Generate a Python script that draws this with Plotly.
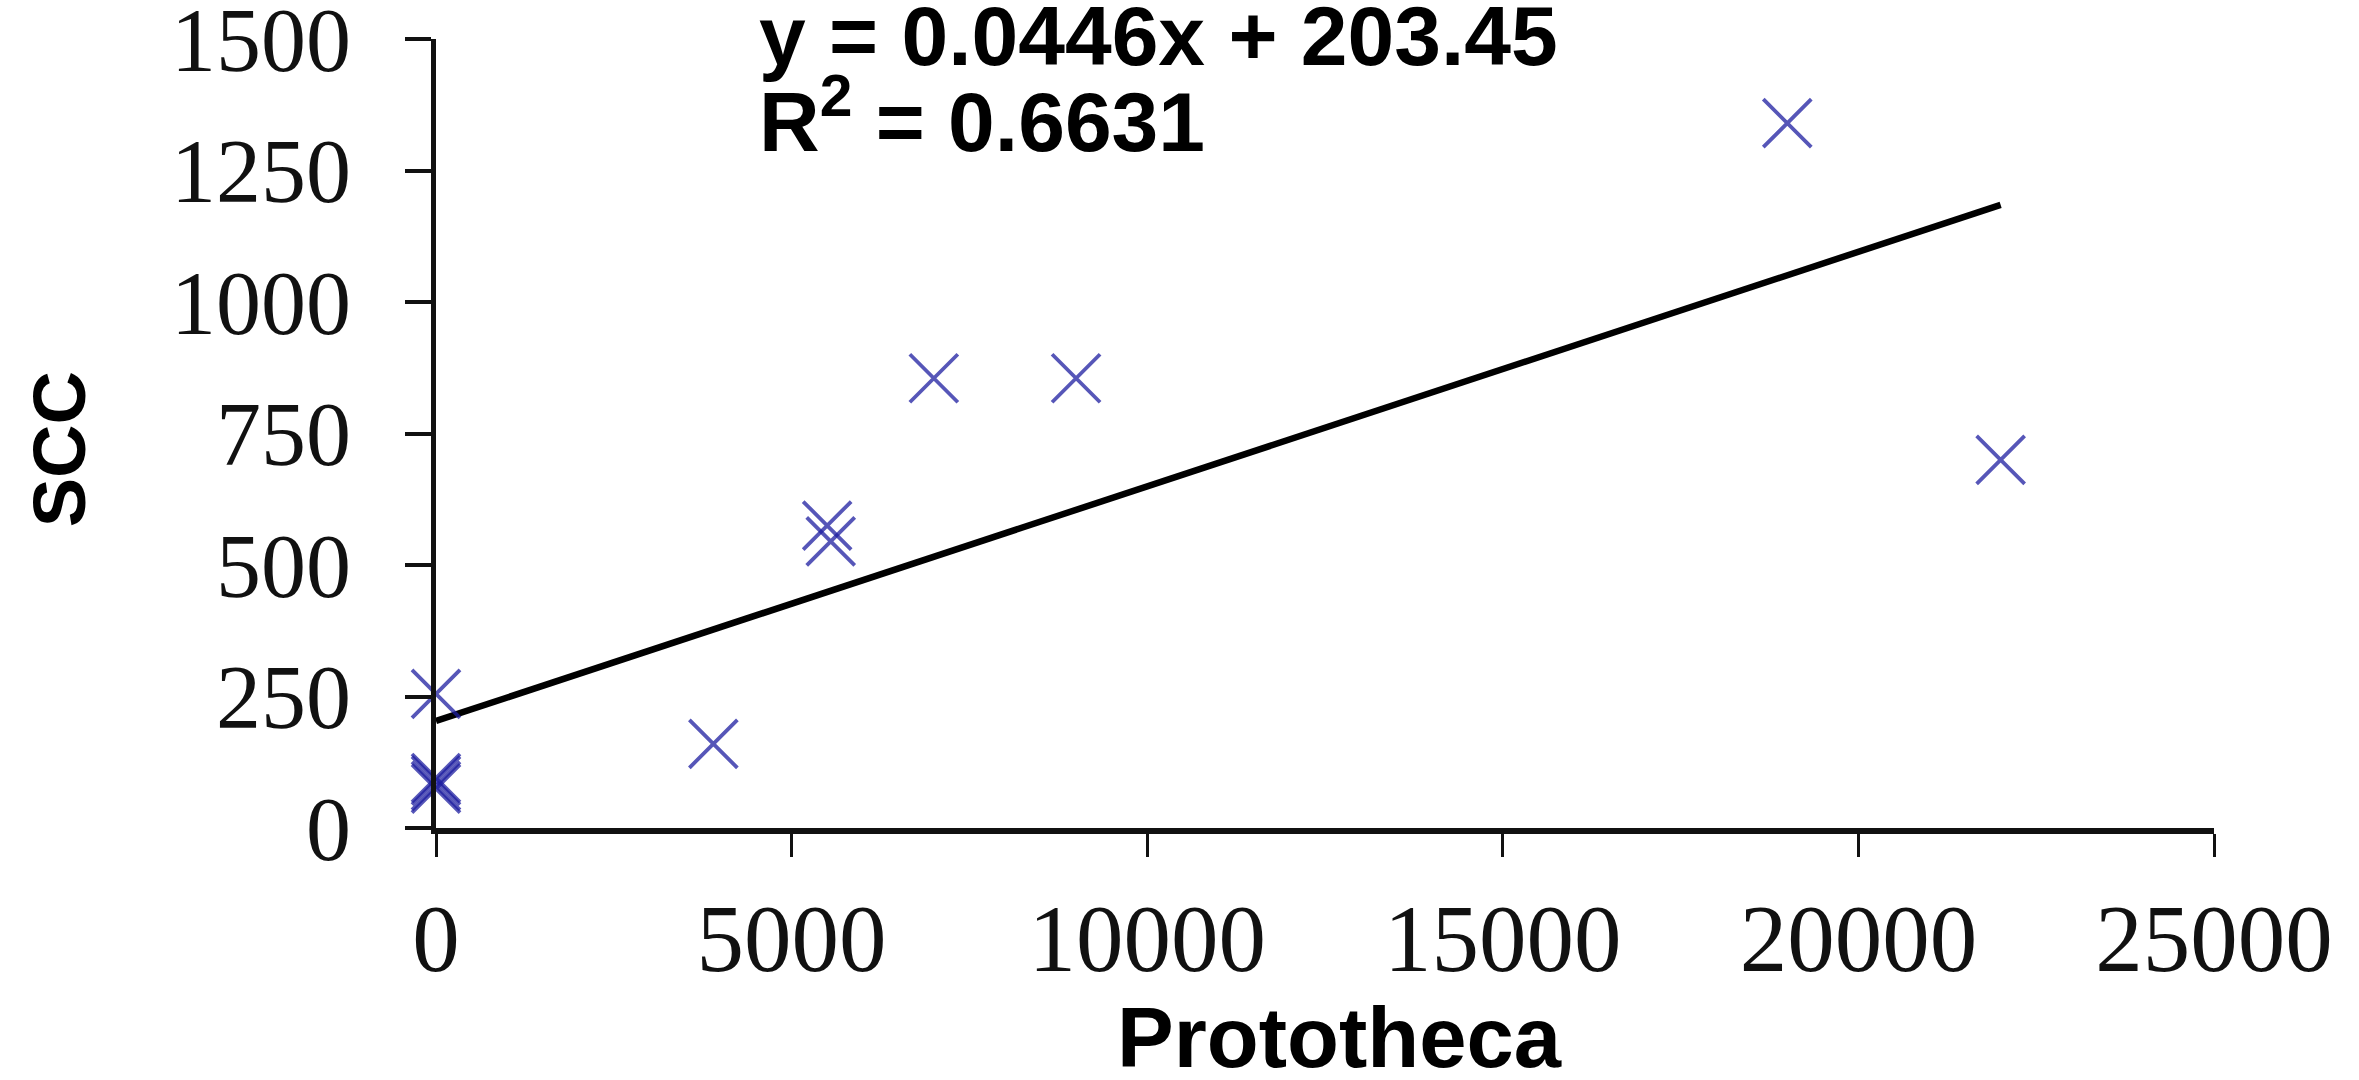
import plotly.graph_objects as go

# Prototheca count vs somatic cell count (SCC)
prototheca = [0, 0, 0, 0, 0, 3900, 5500, 5550, 7000, 9000, 19000, 22000]
scc = [255, 95, 90, 80, 75, 160, 575, 545, 855, 855, 1340, 700]

# Linear trendline as reported
slope = 0.0446
intercept = 203.45
r_squared = 0.6631
trend_x = [min(prototheca), max(prototheca)]
trend_y = [slope * v + intercept for v in trend_x]

x_ticks = [0, 5000, 10000, 15000, 20000, 25000]
y_ticks = [0, 250, 500, 750, 1000, 1250, 1500]

fig = go.Figure()

fig.add_trace(go.Scatter(
    x=trend_x, y=trend_y, mode="lines",
    line=dict(color="black", width=6.5),
    showlegend=False, hoverinfo="skip", cliponaxis=False,
))

fig.add_trace(go.Scatter(
    x=prototheca, y=scc, mode="markers",
    marker=dict(symbol="x-thin", size=48,
                line=dict(color="rgba(30,30,160,0.75)", width=3.8)),
    showlegend=False, cliponaxis=False,
))

serif = "Liberation Serif, Times New Roman, serif"
sans = "Liberation Sans, Arial, sans-serif"

fig.update_layout(
    width=2359, height=1080,
    margin=dict(l=436, r=145, t=39, b=252),
    paper_bgcolor="white", plot_bgcolor="white",
    xaxis=dict(
        range=[0, 25000], tickvals=x_ticks, ticktext=[str(v) for v in x_ticks],
        showgrid=False, zeroline=False, showline=True, linecolor="#111", linewidth=6,
        ticks="outside", ticklen=23, tickwidth=3, tickcolor="#111",
        tickfont=dict(family=serif, size=95, color="#111"), ticklabelstandoff=0,
        ticklabeloverflow="allow", automargin=False,
    ),
    yaxis=dict(
        range=[0, 1500], tickvals=y_ticks, ticktext=[str(v) for v in y_ticks],
        showgrid=False, zeroline=False, showline=True, linecolor="#111", linewidth=5,
        ticks="outside", ticklen=26, tickwidth=4, tickcolor="#111",
        tickfont=dict(family=serif, size=90, color="#111"), ticklabelstandoff=36,
        ticklabeloverflow="allow", automargin=False,
    ),
    annotations=[
        dict(text="<b>y = 0.0446x + 203.45</b>", xref="paper", yref="paper",
             x=0.1805, y=1.004, xanchor="left", yanchor="middle", showarrow=False,
             font=dict(family=sans, size=84, color="black")),
        dict(text="<b>R<sup>2</sup> = 0.6631</b>", xref="paper", yref="paper",
             x=0.1805, y=0.902, xanchor="left", yanchor="middle", showarrow=False,
             font=dict(family=sans, size=84, color="black")),
        dict(text="<b>Prototheca</b>", xref="paper", yref="paper",
             x=0.508, y=-0.266, xanchor="center", yanchor="middle", showarrow=False,
             font=dict(family=sans, size=85, color="black")),
        dict(text="<b>SCC</b>", xref="paper", yref="paper",
             x=-0.212, y=0.48, xanchor="center", yanchor="middle", showarrow=False,
             textangle=-90, font=dict(family=sans, size=74, color="black")),
    ],
)

fig.write_html("out.html")
